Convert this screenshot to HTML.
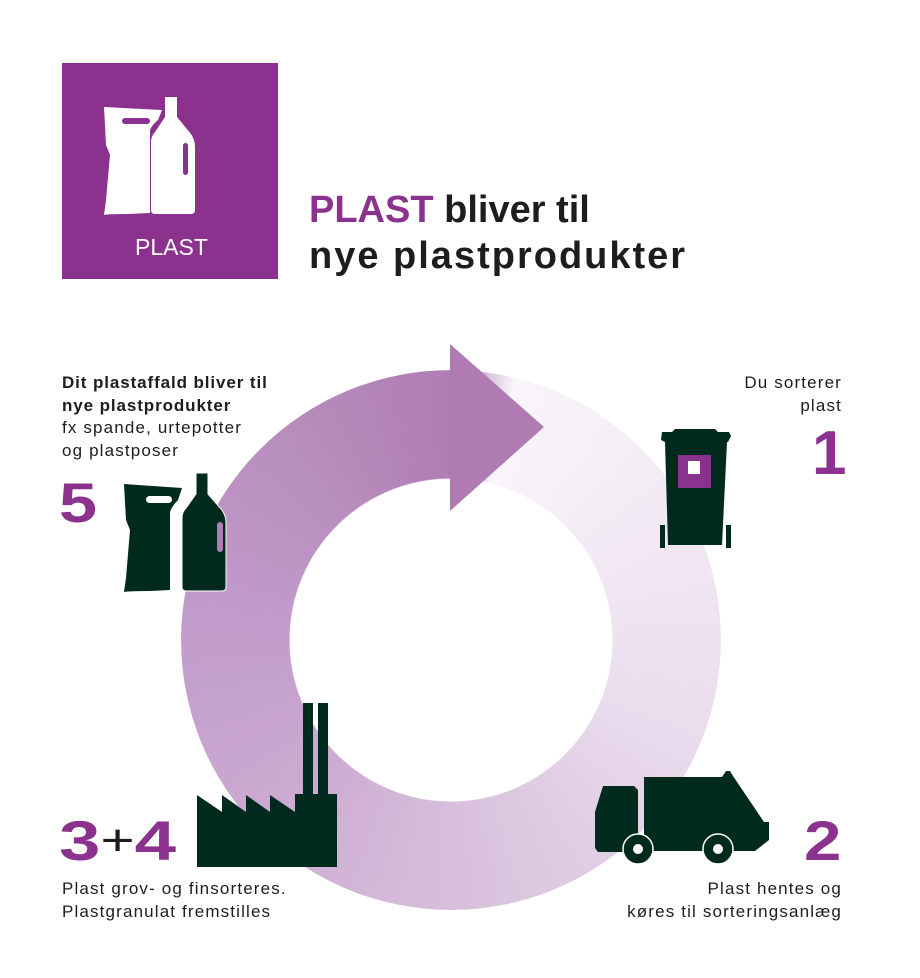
<!DOCTYPE html>
<html><head><meta charset="utf-8">
<style>
html,body{margin:0;padding:0;background:#fff;}
body{width:920px;height:978px;position:relative;overflow:hidden;font-family:"Liberation Sans",sans-serif;color:#1d1d1b;}
.t{position:absolute;white-space:nowrap;font-size:17px;line-height:22.5px;letter-spacing:1.15px;}
.t b{letter-spacing:0.9px;}
.ring{position:absolute;left:181px;top:370px;width:540px;height:540px;border-radius:50%;
background:conic-gradient(from 0deg,#b07db4 0deg,#f9f5fa 14deg,#f3ecf5 50deg,#ebdcee 110deg,#dac3de 170deg,#cba9d0 230deg,#c09acb 280deg,#b88ebd 320deg,#b07db4 360deg);
-webkit-mask:radial-gradient(circle,transparent 161px,#000 162px);mask:radial-gradient(circle,transparent 161px,#000 162px);}
.num{position:absolute;color:#8b318e;font-weight:bold;font-size:56px;line-height:56px;transform-origin:0 0;white-space:nowrap;}
.h{position:absolute;left:309px;font-size:38px;font-weight:bold;line-height:46px;white-space:nowrap;}
</style></head><body>
<div class="ring"></div>
<svg width="920" height="978" style="position:absolute;left:0;top:0">
<polygon points="450,344 544,427 450,511" fill="#b07bb3"/>
<rect x="62" y="63" width="216" height="216" fill="#8b318e"/>
<path d="M104,107 L162,110 L158,120 Q152,125 150,130 L150,213 L128,214 Q106,214 104,215 L106,200 L110,155 L106,145 Z" fill="#fff"/>
<rect x="122" y="118" width="28" height="6" rx="3" fill="#8b318e"/>
<path d="M165,97 L177,97 L177,117 L191,134 Q195,140 195,147 L195,210 Q195,214 191,214 L155,214 Q151,214 151,210 L151,142 Q151,136 155,132 L165,117 Z" fill="#fff"/>
<rect x="183" y="143" width="5" height="32" rx="2.5" fill="#8b318e"/>
<path d="M124,484 L182,488 L178,500 Q172,506 170,512 L170,590 L150,591 Q128,591 124,592 L126,578 L130,530 L126,520 Z" fill="#002a1e"/>
<rect x="146" y="496" width="26" height="7" rx="3.5" fill="#fff"/>
<path d="M196,473 L208,473 L208,494 L222,510 Q226,516 226,523 L226,587 Q226,591 222,591 L186,591 Q182,591 182,587 L182,518 Q182,512 186,508 L196,494 Z" fill="#002a1e" stroke="#fff" stroke-width="1"/>
<rect x="217" y="522" width="6" height="30" rx="3" fill="#b07db4"/>
<path d="M662,432 L672,432 L675,429 L715,429 L718,432 L729,432 L731,436 L728,442 L727,442 L722,545 L668,545 L665,442 L661,440 Z" fill="#002a1e"/>
<rect x="660" y="525" width="5" height="23" fill="#002a1e"/>
<rect x="726" y="525" width="5" height="23" fill="#002a1e"/>
<rect x="678" y="455" width="33" height="33" fill="#8b318e"/>
<rect x="688" y="461" width="12" height="13" fill="#fff"/>
<path d="M603,786 L634,786 L638,790 L638,852 L598,852 L595,848 L595,812 Z" fill="#002a1e"/>
<path d="M644,777 L722,777 L726,771 L730,771 L733,776 L764,822 L769,822 L769,840 L755,851 L644,851 Z" fill="#002a1e"/>
<circle cx="638" cy="849" r="15" fill="#002a1e" stroke="#fff" stroke-width="1.5"/><circle cx="638" cy="849" r="5" fill="#fff"/>
<circle cx="718" cy="849" r="15" fill="#002a1e" stroke="#fff" stroke-width="1.5"/><circle cx="718" cy="849" r="5" fill="#fff"/>
<rect x="303" y="703" width="10" height="92" fill="#002a1e"/>
<rect x="318" y="703" width="10" height="92" fill="#002a1e"/>
<path d="M197,795 L222,812 L222,795 L246,812 L246,795 L270,812 L270,795 L295,812 L295,794 L337,794 L337,867 L197,867 Z" fill="#002a1e"/>
</svg>
<div style="position:absolute;left:135px;top:234px;color:#fff;font-size:23px;white-space:nowrap">PLAST</div>
<div class="h" style="top:187px"><span style="color:#8b318e">PLAST</span> bliver til</div>
<div class="h" style="top:233px;letter-spacing:2px">nye plastprodukter</div>
<div class="t" style="left:62px;top:372px"><b>Dit plastaffald bliver til<br>nye plastprodukter</b><br>fx spande, urtepotter<br>og plastposer</div>
<div class="num" style="left:59px;top:475px;transform:scaleX(1.22)">5</div>
<div class="t" style="right:78px;top:372px;text-align:right">Du sorterer<br>plast</div>
<div class="num" style="left:812px;top:423px;font-size:62px;line-height:62px">1</div>
<div class="num" style="left:804px;top:813px;transform:scaleX(1.2)">2</div>
<div class="num" style="left:59px;top:813px;transform:scaleX(1.33)">3<span style="font-weight:normal;color:#1d1d1b;font-size:44px;position:relative;top:-5px">+</span>4</div>
<div class="t" style="left:62px;top:878px">Plast grov- og finsorteres.<br>Plastgranulat fremstilles</div>
<div class="t" style="right:78px;top:878px;text-align:right">Plast hentes og<br>køres til sorteringsanlæg</div>
</body></html>
